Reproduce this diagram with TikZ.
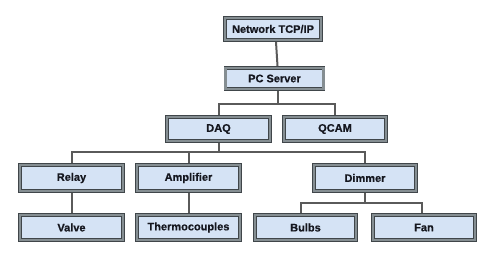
\documentclass[tikz,border=0pt]{standalone}
\usepackage{fontspec}
\setmainfont{Liberation Sans}
\newfontface\boxfont{Liberation Sans Bold}[FakeBold=0.6]
\definecolor{boxblue}{HTML}{D5E3F5}
\definecolor{bandgray}{HTML}{858E92}
\definecolor{edgedark}{HTML}{40464A}
\definecolor{linegray}{HTML}{5A5A5A}
\definecolor{txt}{HTML}{15171F}
\begin{document}
\begin{tikzpicture}[x=1pt,y=-1pt,
  box/.style={draw=edgedark, line width=0.7pt, double=bandgray, double distance=2.2pt,
    fill=boxblue, inner sep=0pt, outer sep=0pt, text=txt, font=\boxfont\fontsize{11}{13}\selectfont},
  conn/.style={draw=linegray, line width=2pt}]
\useasboundingbox (0,0) rectangle (490,255);
\node[box, minimum width=96pt, minimum height=22pt] (net) at (273,29) {Network TCP/IP};
\node[box, minimum width=98pt, minimum height=21pt] (pc) at (274.5,78.5) {PC Server};
\node[box, minimum width=103pt, minimum height=24pt] (daq) at (218.5,129) {DAQ};
\node[box, minimum width=102pt, minimum height=24pt] (qcam) at (335,129) {QCAM};
\node[box, minimum width=103pt, minimum height=26pt] (relay) at (71.5,178) {Relay};
\node[box, minimum width=103pt, minimum height=26pt] (amp) at (188.5,178) {Amplifier};
\node[box, minimum width=102pt, minimum height=26pt] (dimmer) at (365,178) {Dimmer};
\node[box, minimum width=103pt, minimum height=25pt] (valve) at (71.5,227.5) {Valve};
\node[box, minimum width=103pt, minimum height=25pt] (thermo) at (188.5,227.5) {Thermocouples};
\node[box, minimum width=101pt, minimum height=25pt] (bulbs) at (305.5,227.5) {Bulbs};
\node[box, minimum width=102pt, minimum height=25pt] (fan) at (424,227.5) {Fan};
\coordinate (b1) at (277,104);
\coordinate (b2) at (218,152);
\coordinate (b3) at (365,203);
\draw[conn] ([xshift=3pt,yshift=-2pt]net.south) -- ([xshift=3pt,yshift=2pt]pc.north);
\draw[conn] ([xshift=3pt,yshift=-2pt]pc.south) -- ([xshift=3pt]pc.south |- b1);
\draw[conn] ([yshift=2pt]daq.north) |- (b1) -| ([yshift=2pt]qcam.north);
\draw[conn] ([yshift=-2pt]daq.south) -- (daq.south |- b2);
\draw[conn] ([yshift=2pt]relay.north) |- (b2) -| ([yshift=2pt]dimmer.north);
\draw[conn] ([yshift=2pt]amp.north) -- (amp.north |- b2);
\draw[conn] ([yshift=-2pt]relay.south) -- ([yshift=2pt]valve.north);
\draw[conn] ([yshift=-2pt]amp.south) -- ([yshift=2pt]thermo.north);
\draw[conn] ([yshift=-2pt]dimmer.south) -- (dimmer.south |- b3);
\draw[conn] ([xshift=-5pt,yshift=2pt]bulbs.north) |- (b3) -| ([xshift=-2pt,yshift=2pt]fan.north);
\end{tikzpicture}
\end{document}
